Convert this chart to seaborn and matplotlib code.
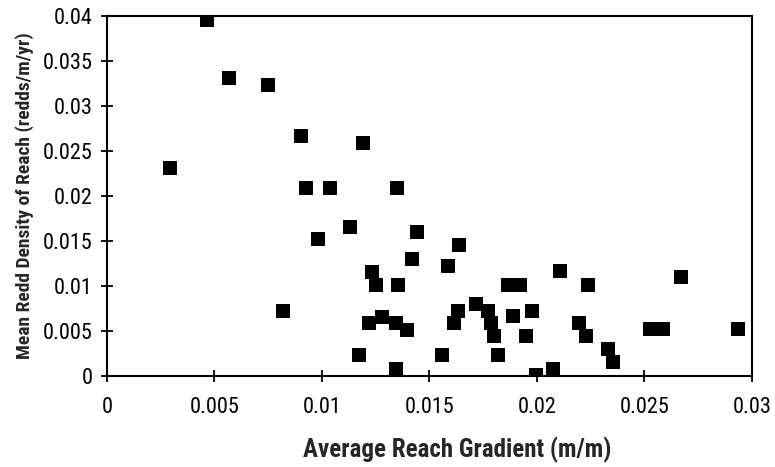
import pandas as pd
import seaborn as sns
from matplotlib import pyplot as plt
from matplotlib.ticker import FuncFormatter, MultipleLocator

# reach gradient (m/m) vs mean redd density (redds/m/yr)
gradient = [0.00464, 0.00567, 0.00747, 0.00905, 0.01191, 0.00293, 0.00924, 0.0104, 0.0135,
            0.01133, 0.00983, 0.01443, 0.0142, 0.01231, 0.01253, 0.01355, 0.0082, 0.01282,
            0.0122, 0.01344, 0.01397, 0.01171, 0.01344,
            0.01637, 0.01585, 0.02107, 0.02673, 0.01868, 0.01924, 0.02239, 0.01716, 0.01634,
            0.01774, 0.01978, 0.01614, 0.01789, 0.01891, 0.018, 0.01952, 0.02197, 0.02228,
            0.02333, 0.02353, 0.02528, 0.02587, 0.02936, 0.01557, 0.0182, 0.01994, 0.02076]
density = [0.0395, 0.0331, 0.03233, 0.02667, 0.02586, 0.02308, 0.02085, 0.02085, 0.02085,
           0.01659, 0.01519, 0.016, 0.01296, 0.01159, 0.01015, 0.01015, 0.00722, 0.00659,
           0.00585, 0.00585, 0.00511, 0.00233, 0.00078,
           0.01456, 0.01222, 0.01167, 0.01096, 0.01011, 0.01011, 0.01015, 0.00796, 0.00722,
           0.00722, 0.00726, 0.00593, 0.00593, 0.00667, 0.00444, 0.00444, 0.00593, 0.00444,
           0.00296, 0.00159, 0.00519, 0.00519, 0.00519, 0.00233, 0.00233, 0.0001, 0.00078]

df = pd.DataFrame({'gradient': gradient, 'density': density})

sns.set_style('ticks')
plt.rcParams['font.family'] = ['Liberation Sans Narrow', 'Roboto Condensed',
                               'DejaVu Sans Condensed', 'Liberation Sans', 'DejaVu Sans']
plt.rcParams['font.stretch'] = 'condensed'

fig = plt.figure(figsize=(7.75, 4.67), dpi=100)
ax = fig.add_axes([0.138, 0.195, 0.832, 0.771])
sns.scatterplot(data=df, x='gradient', y='density', marker='s', s=90,
                color='black', edgecolor='black', linewidth=0, ax=ax)

ax.set_xlim(0, 0.03)
ax.set_ylim(0, 0.04)
ax.xaxis.set_major_locator(MultipleLocator(0.005))
ax.yaxis.set_major_locator(MultipleLocator(0.005))
fmt = FuncFormatter(lambda v, p: f'{v:g}' if abs(v) > 1e-12 else '0')
ax.xaxis.set_major_formatter(fmt)
ax.yaxis.set_major_formatter(fmt)
ax.tick_params(direction='inout', length=9, width=1.3, labelsize=16, colors='black')
ax.tick_params(axis='x', pad=11)
ax.tick_params(axis='y', pad=6)
for sp in ax.spines.values():
    sp.set_linewidth(1.5)
    sp.set_color('black')

ax.set_xlabel('Average Reach Gradient (m/m)', fontsize=18, fontweight='bold')
ax.xaxis.set_label_coords(0.543, -0.168)
ax.set_ylabel('Mean Redd Density of Reach (redds/m/yr)', fontsize=14, fontweight='bold', labelpad=6)

fig.savefig('out.png', dpi=100)
